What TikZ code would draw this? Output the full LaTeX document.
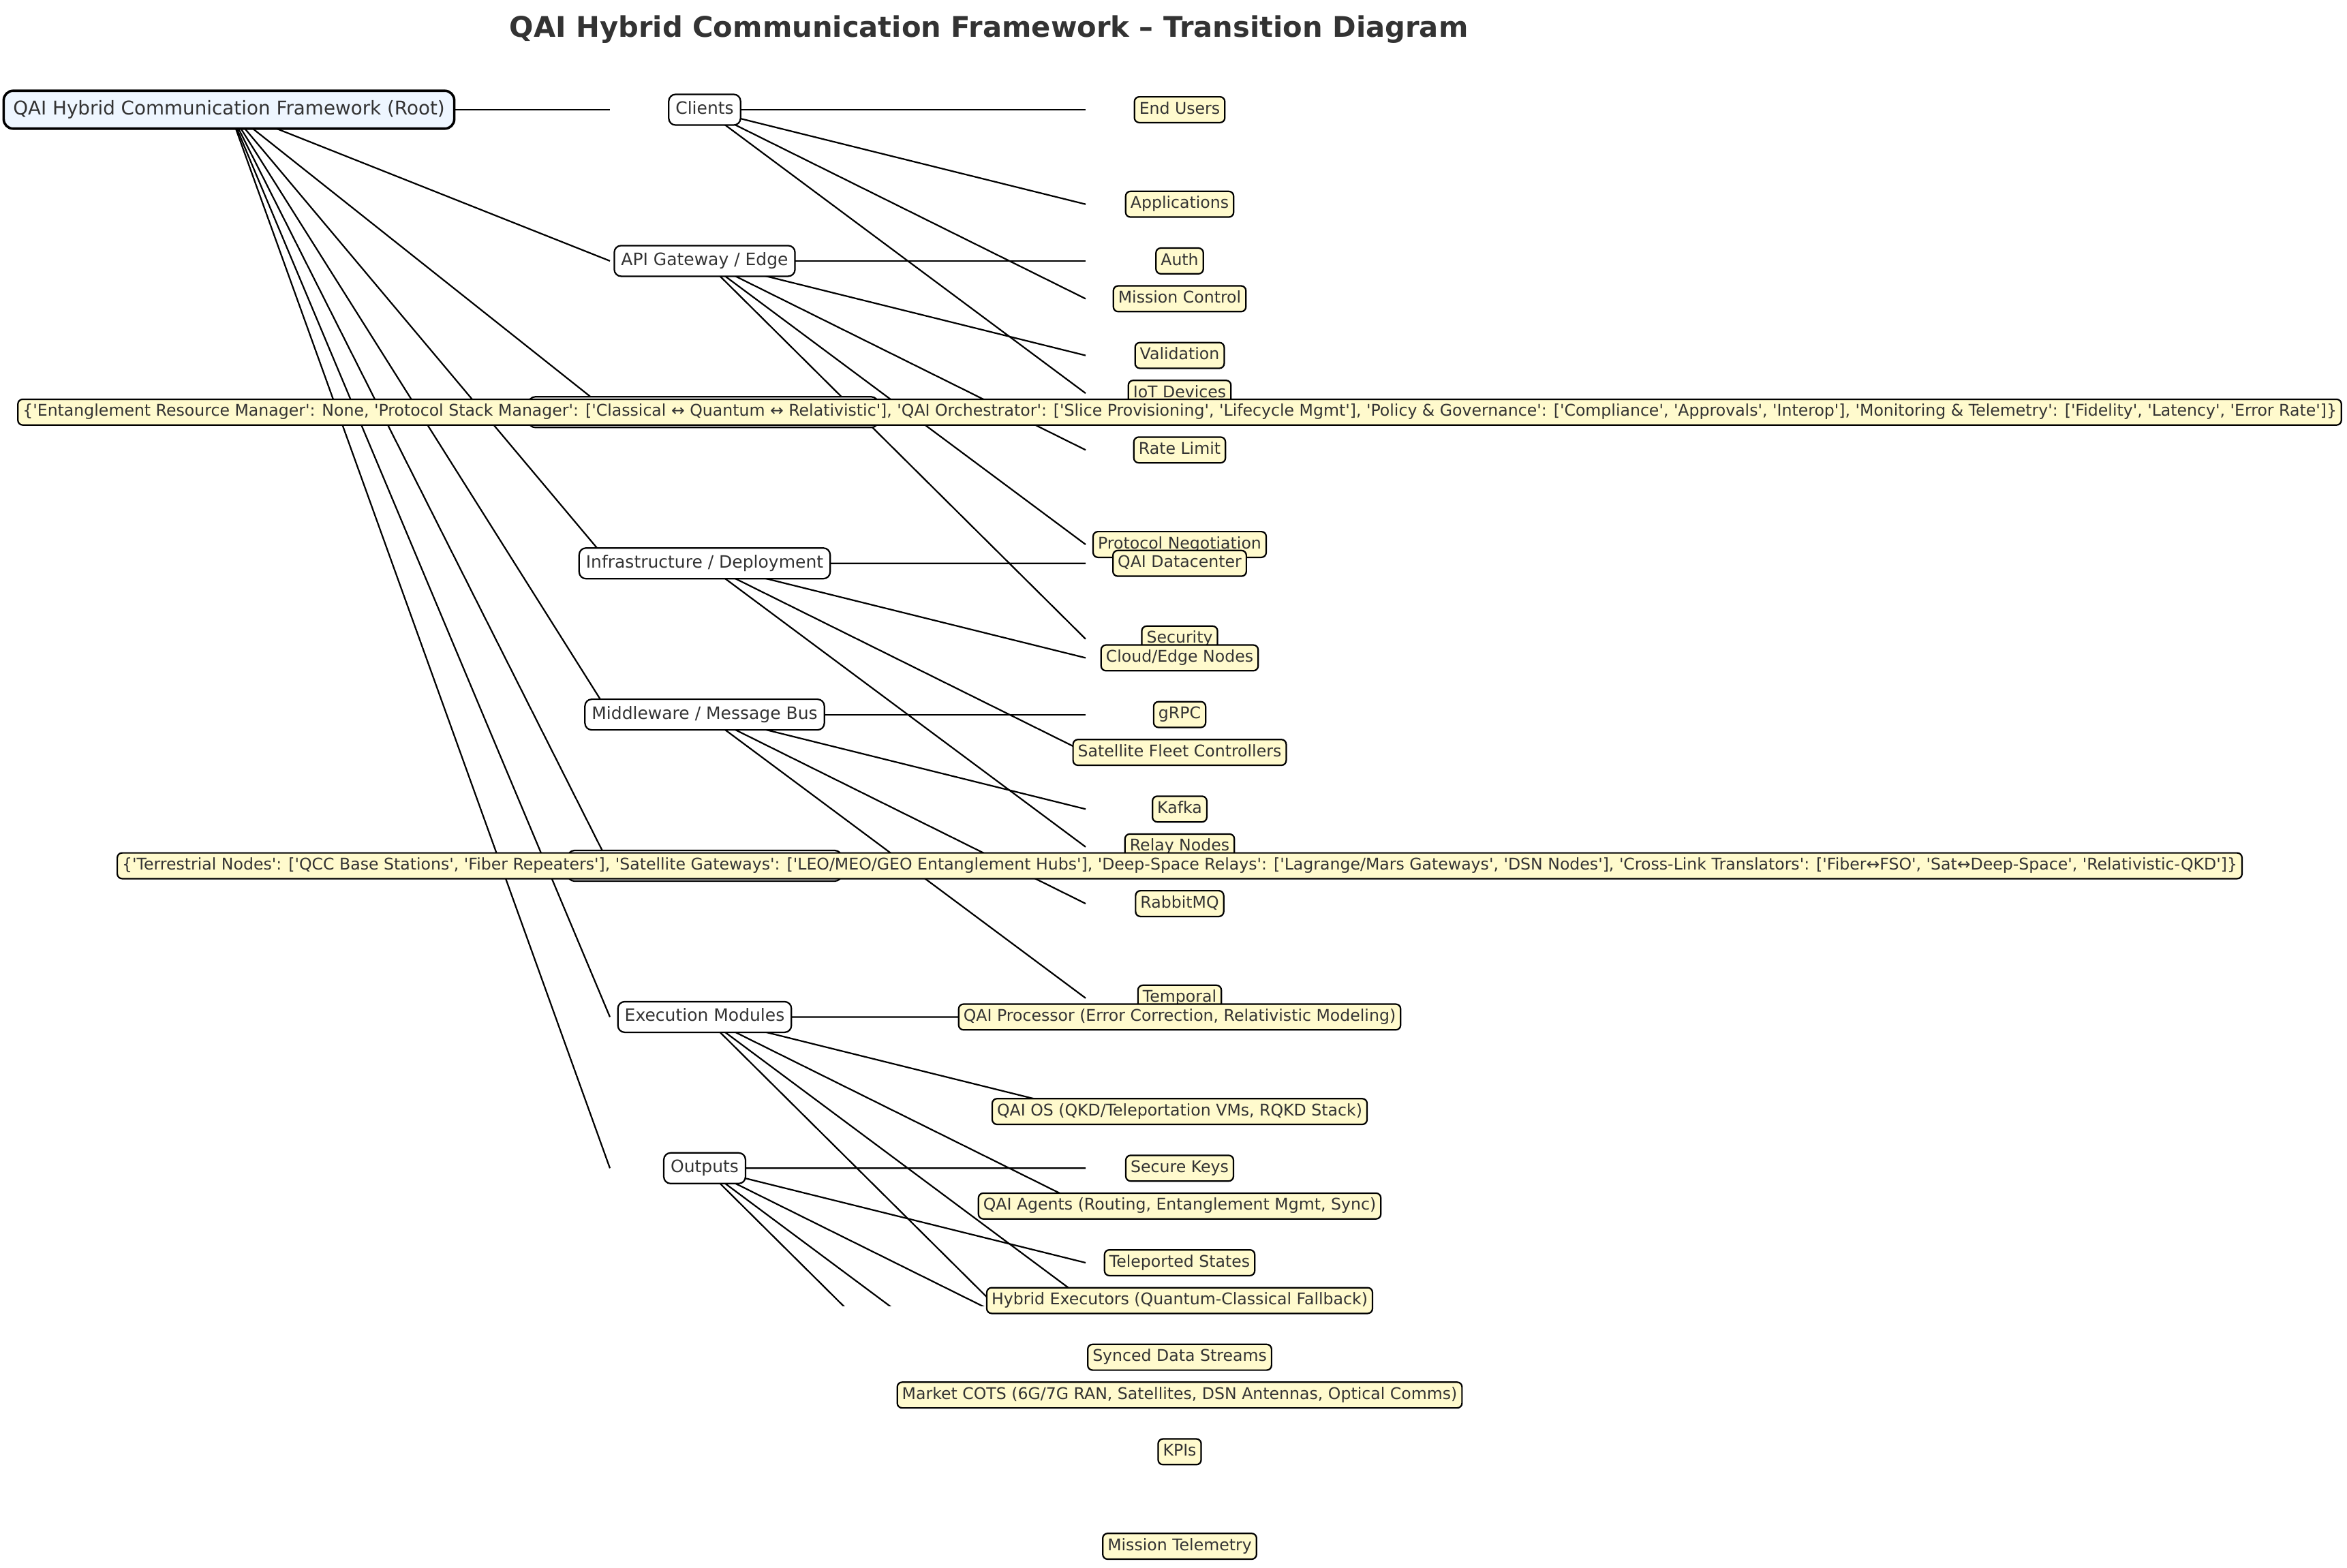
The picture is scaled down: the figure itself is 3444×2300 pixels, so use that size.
\documentclass[tikz,border=0pt]{standalone}
\usepackage{fontspec}
\setmainfont{DejaVu Sans}[Ligatures=TeXOff]
\usetikzlibrary{backgrounds}
\definecolor{txt}{HTML}{333333}
\definecolor{rootfill}{HTML}{EEF6FF}
\definecolor{leaffill}{HTML}{FFFACD}
\begin{document}
\begin{tikzpicture}[x=0.36pt,y=-0.36pt,
  rootbox/.style={draw=black, line width=1.3pt, fill=rootfill, text=txt,
    rounded corners=5pt, inner sep=5pt, font=\fontsize{10}{12}\selectfont,
    text height=7.6pt, text depth=2.4pt},
  midbox/.style={draw=black, line width=0.8pt, fill=white, text=txt,
    rounded corners=3.6pt, inner sep=3.6pt, font=\fontsize{9}{11}\selectfont,
    text height=6.84pt, text depth=2.16pt},
  leaf/.style={draw=black, line width=0.8pt, fill=leaffill, text=txt,
    rounded corners=2.55pt, inner sep=2.55pt, font=\fontsize{8.5}{10}\selectfont,
    text height=6.46pt, text depth=2.04pt},
  edge/.style={draw=black, line width=0.8pt}]
\useasboundingbox (0,0) rectangle (3444,2300);

\node[font=\bfseries\fontsize{15}{18}\selectfont, text=txt, anchor=base] (title) at (1451,54)
  {QAI Hybrid Communication Framework – Transition Diagram};

% root and middle column
\node[rootbox] (root) at (336,161) {QAI Hybrid Communication Framework (Root)};
\node[midbox] (m1) at (1034,161.0) {Clients};
\node[midbox] (m2) at (1034,382.9) {API Gateway / Edge};
\node[midbox, minimum width=184.7pt] (m3) at (1032,604.8) {};
\node[midbox] (m4) at (1034,826.7) {Infrastructure / Deployment};
\node[midbox] (m5) at (1034,1048.6) {Middleware / Message Bus};
\node[midbox, minimum width=144.7pt] (m6) at (1034,1270.5) {};
\node[midbox] (m7) at (1034,1492.4) {Execution Modules};
\node[midbox] (m8) at (1034,1714.3) {Outputs};

% leaves
\node[leaf] (l11) at (1731,161.0) {End Users};
\node[leaf] (l12) at (1731,299.7) {Applications};
\node[leaf] (l13) at (1731,438.4) {Mission Control};
\node[leaf] (l14) at (1731,577.1) {IoT Devices};
\node[leaf] (l21) at (1731,382.9) {Auth};
\node[leaf] (l22) at (1731,521.6) {Validation};
\node[leaf] (l23) at (1731,660.3) {Rate Limit};
\node[leaf] (l24) at (1731,799.0) {Protocol Negotiation};
\node[leaf] (l25) at (1731,937.7) {Security};
\node[leaf] (l31) at (1731,604.8) {\{'Entanglement Resource Manager': None, 'Protocol Stack Manager': ['Classical ↔ Quantum ↔ Relativistic'], 'QAI Orchestrator': ['Slice Provisioning', 'Lifecycle Mgmt'], 'Policy \& Governance': ['Compliance', 'Approvals', 'Interop'], 'Monitoring \& Telemetry': ['Fidelity', 'Latency', 'Error Rate']\}};
\node[leaf] (l41) at (1731,826.7) {QAI Datacenter};
\node[leaf] (l42) at (1731,965.4) {Cloud/Edge Nodes};
\node[leaf] (l43) at (1731,1104.1) {Satellite Fleet Controllers};
\node[leaf] (l44) at (1731,1242.8) {Relay Nodes};
\node[leaf] (l51) at (1731,1048.6) {gRPC};
\node[leaf] (l52) at (1731,1187.3) {Kafka};
\node[leaf] (l53) at (1731,1326.0) {RabbitMQ};
\node[leaf] (l54) at (1731,1464.7) {Temporal};
\node[leaf] (l61) at (1731,1270.5) {\{'Terrestrial Nodes': ['QCC Base Stations', 'Fiber Repeaters'], 'Satellite Gateways': ['LEO/MEO/GEO Entanglement Hubs'], 'Deep-Space Relays': ['Lagrange/Mars Gateways', 'DSN Nodes'], 'Cross-Link Translators': ['Fiber↔FSO', 'Sat↔Deep-Space', 'Relativistic-QKD']\}};
\node[leaf] (l71) at (1731,1492.4) {QAI Processor (Error Correction, Relativistic Modeling)};
\node[leaf] (l72) at (1731,1631.1) {QAI OS (QKD/Teleportation VMs, RQKD Stack)};
\node[leaf] (l73) at (1731,1769.8) {QAI Agents (Routing, Entanglement Mgmt, Sync)};
\node[leaf] (l74) at (1731,1908.5) {Hybrid Executors (Quantum-Classical Fallback)};
\node[leaf] (l75) at (1731,2047.2) {Market COTS (6G/7G RAN, Satellites, DSN Antennas, Optical Comms)};
\node[leaf] (l81) at (1731,1714.3) {Secure Keys};
\node[leaf] (l82) at (1731,1853.0) {Teleported States};
\node[leaf] (l83) at (1731,1991.7) {Synced Data Streams};
\node[leaf] (l84) at (1731,2130.4) {KPIs};
\node[leaf] (l85) at (1731,2269.1) {Mission Telemetry};

% edge end points
\foreach \g in {1,...,8}
  \coordinate (e-m\g) at (895,{161+(\g-1)*221.9});
\foreach \g/\n in {1/4,2/5,3/1,4/4,5/4,6/1,7/5,8/5}
  \foreach \j in {1,...,\n}
    \coordinate (e-l\g\j) at (1593,{161+(\g-1)*221.9+(\j-1)*138.7});

\begin{pgfonlayer}{background}
\begin{scope}
  \clip (0,0) rectangle (3444,1916);
  \foreach \g in {1,...,8}
    \draw[edge] (root.center) -- (e-m\g);
  \foreach \g/\n in {1/4,2/5,3/1,4/4,5/4,6/1,7/5,8/5}
    \foreach \j in {1,...,\n}
      \draw[edge] (m\g.center) -- (e-l\g\j);
\end{scope}
\end{pgfonlayer}
\end{tikzpicture}
\end{document}
